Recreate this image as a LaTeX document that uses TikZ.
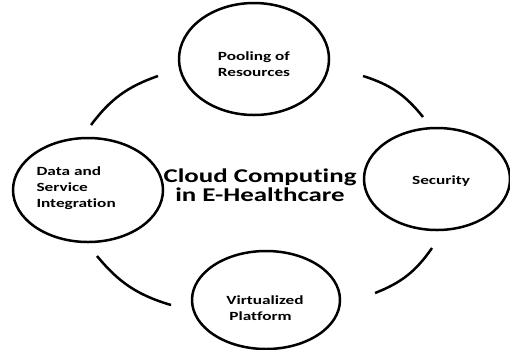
\documentclass[tikz,border=0pt]{standalone}
\usepackage{fontspec}
\setmainfont{Carlito}[FakeStretch=1.38,Ligatures={NoCommon}]
\usetikzlibrary{shapes.geometric}
\begin{document}
\begin{tikzpicture}[x=1pt,y=-1pt,
  topic/.style={draw,line width=2.5pt,ellipse,inner sep=0pt},
  label/.style={font=\fontsize{12.5}{16}\selectfont\bfseries,align=center},
  link/.style={line width=2.5pt}]
\useasboundingbox[fill=white] (0,0) rectangle (510,349);
% the four topics
\node[topic,minimum width=150pt,minimum height=112pt] (pool) at (254,59) {};
\node[topic,minimum width=150pt,minimum height=104pt] (data) at (88,190) {};
\node[topic,minimum width=146pt,minimum height=102pt] (sec) at (437,179) {};
\node[topic,minimum width=148pt,minimum height=98pt] (virt) at (266,300) {};
% labels
\node[label,align=left] (poolt) at (254,64) {Pooling of\\Resources};
\node[label,align=left,anchor=west] (datat) at (33,188) {Data and\\Service\\Integration};
\node[label] (sect) at (441,181) {Security};
\node[label,align=left] (virtt) at (265,308) {Virtualized\\\hspace*{3pt}Platform};
\node[font=\fontsize{19.5}{19.5}\selectfont\bfseries,align=center] (title) at (260,185) {Cloud Computing\\in E-Healthcare};
% connecting arcs
\coordinate (a1) at (91,125); \coordinate (a2) at (158,76);
\coordinate (b1) at (363,76); \coordinate (b2) at (423,117);
\coordinate (c1) at (97,256); \coordinate (c2) at (171,305);
\coordinate (d1) at (432,248); \coordinate (d2) at (375,293);
\draw[link] (a1) to[bend left=17] (a2);
\draw[link] (b1) to[bend left=17] (b2);
\draw[link] (c1) to[bend right=17] (c2);
\draw[link] (d1) to[bend left=17] (d2);
\end{tikzpicture}
\end{document}
